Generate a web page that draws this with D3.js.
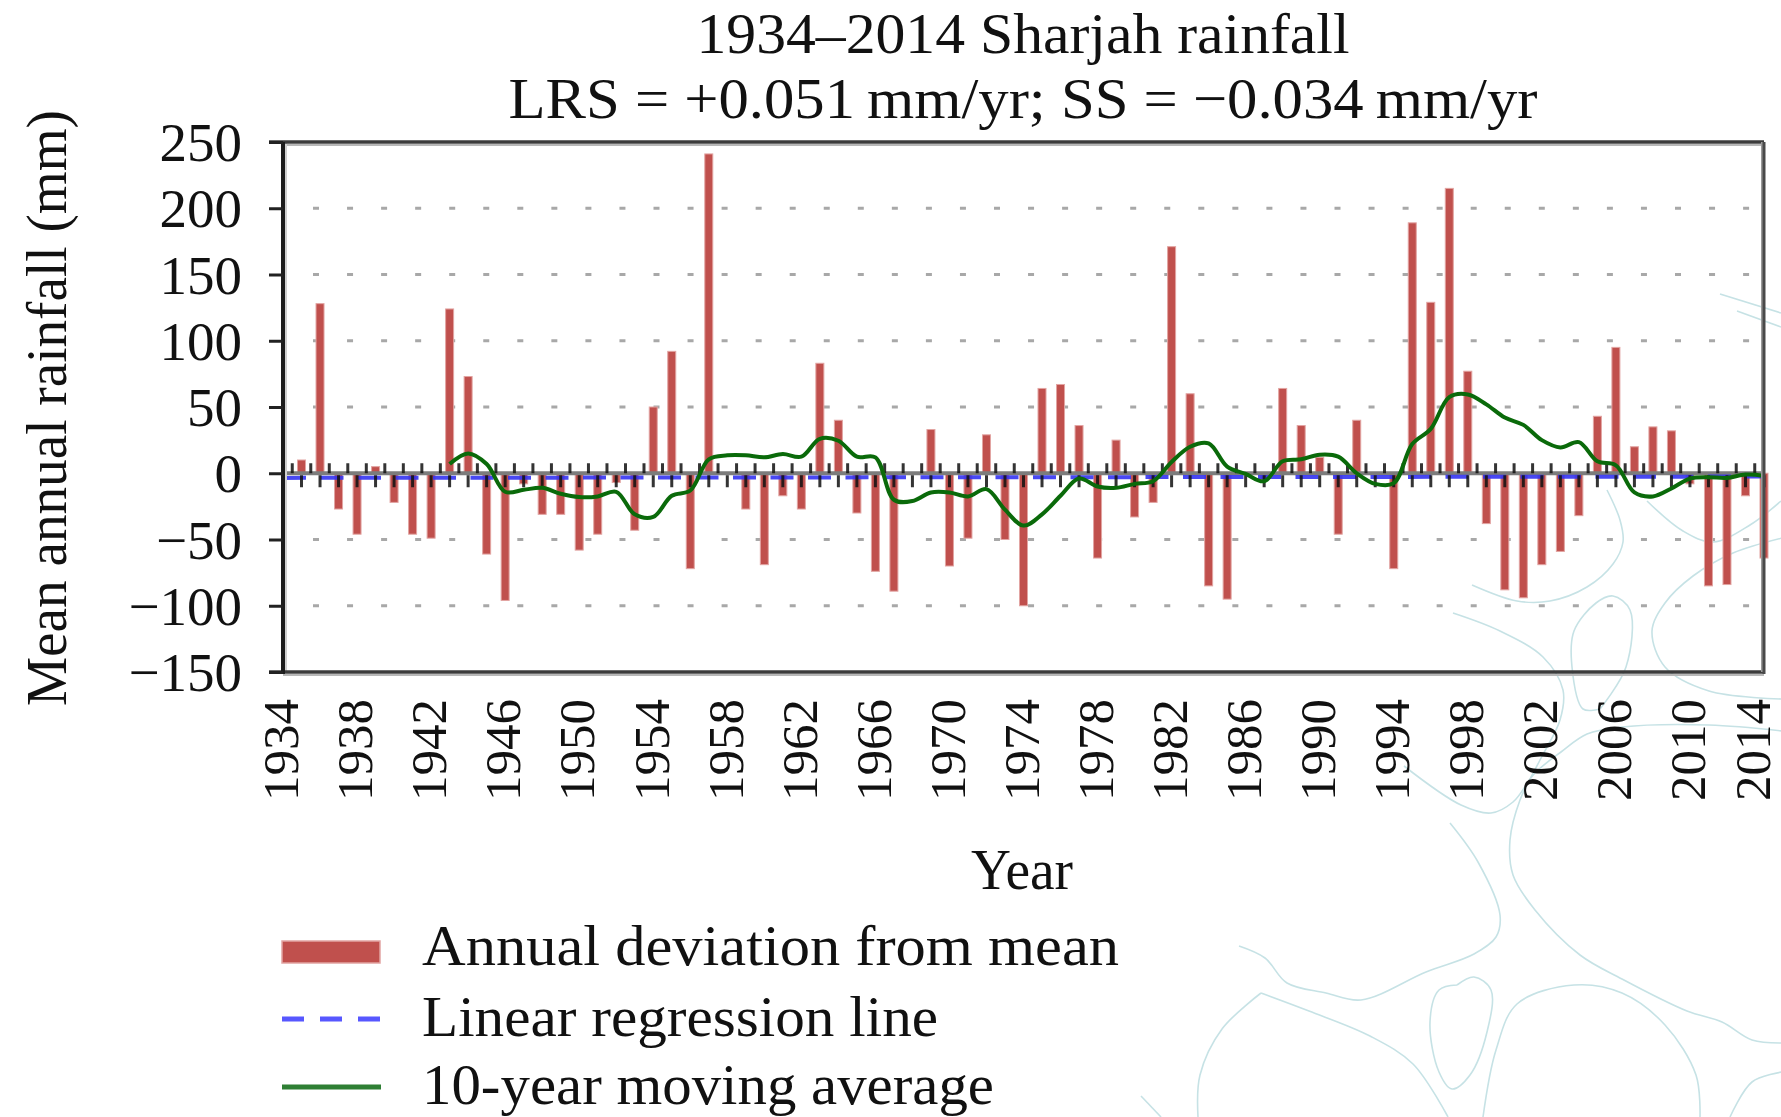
<!DOCTYPE html>
<html>
<head>
<meta charset="utf-8">
<script src="https://cdn.jsdelivr.net/npm/d3@7"></script>
<style>
	body { margin: 0; background: #fff; }
	svg { display: block; }
	text { font-family: "Liberation Serif", "Times New Roman", serif; fill: #111; }
</style>
</head>
<body>
<svg id="chart" width="1781" height="1117"></svg>
<script>
// annual deviation from mean (mm), one value per year 1934..2014
var years = d3.range(1934, 2015);
var deviation = [
	0, 10, 128, -27, -46, 5, -22, -46, -49, 124,
	73, -61, -96, -8, -31, -31, -58, -46, -7, -43,
	50, 92, -72, 241, 0, -27, -69, -17, -27, 83,
	40, -30, -74, -89, 0, 33, -70, -49, 29, -50,
	-100, 64, 67, 36, -64, 25, -33, -22, 171, 60,
	-85, -95, 0, -5, 64, 36, 12, -46, 40, 0,
	-72, 189, 129, 215, 77, -38, -88, -94, -69, -59,
	-32, 43, 95, 20, 35, 32, -8, -85, -84, -17,
	-64
];

// 10-year moving average (1943..2014)
var maStart = 1943;
var movingAvg = [
	7, 15, 7, -14, -12.5, -11, -15.5, -18, -17.5, -14,
	-31, -33, -17, -13, 10.5, 13.5, 13.5, 12, 14.5, 12.5,
	26, 24.5, 12.5, 12, -20, -21, -14.5, -14.5, -17.5, -12,
	-27.5, -39.5, -31, -17, -4, -10, -11, -8, -6, 8.5,
	20, 22.5, 5, -0.5, -6, 9, 10.5, 14, 12.5, 0,
	-8, -7.5, 22, 33.5, 57.5, 59.5, 52, 42, 36.5, 25,
	19.5, 23.5, 9, 6, -14.5, -17.5, -11.5, -4, -3, -3.5,
	-1, -2
];

// linear regression line end points
var regYears = [1934, 2014];
var regValues = [-3.5, -2.5];

var yTicks = [-150, -100, -50, 0, 50, 100, 150, 200, 250];
var gridValues = [-100, -50, 50, 100, 150, 200];
var yearTicks = d3.range(1934, 2015, 4);

var titleLines = ["1934\u20132014 Sharjah rainfall", "LRS = +0.051\u2009mm/yr; SS = \u22120.034\u2009mm/yr"];
var yTitle = "Mean annual rainfall (mm)";
var xTitle = "Year";
var legendLabels = ["Annual deviation from mean", "Linear regression line", "10-year moving average"];

// plot box (window.top is read-only, so no bare "top")
var box = {left: 283, right: 1764, top: 142, bottom: 672};

var x = d3.scaleLinear().domain([1934, 2014]).range([box.left, box.right]);
var y = d3.scaleLinear().domain([-150, 250]).range([box.bottom, box.top]);

var svg = d3.select("#chart");

// faint watermark swirls behind the chart
var swirls = [
	[[1453,613],[1500,631],[1543,657],[1563,690],[1560,720],[1540,760],[1520,800],[1510,840],[1513,875],[1535,910],[1580,955],[1622,979],[1687,1011],[1722,1022],[1752,1040],[1782,1043]],
	[[1404,766],[1461,805],[1491,813],[1513,802],[1535,773],[1561,752],[1587,734],[1622,727],[1709,725],[1782,731]],
	[[1600,709],[1583,709],[1572,667],[1574,631],[1596,603],[1613,596],[1630,610],[1626,667],[1600,709]],
	[[1472,585],[1517,601],[1550,601],[1587,587],[1613,564],[1623,542],[1620,520],[1607,490]],
	[[1782,538],[1733,553],[1693,576],[1665,603],[1652,631],[1665,667],[1709,691],[1782,699]],
	[[1647,501],[1683,531],[1713,542],[1750,525],[1781,501]],
	[[1720,294],[1781,313]],
	[[1737,311],[1781,327]],
	[[1450,823],[1478,862],[1500,915],[1496,937],[1474,954],[1426,972],[1361,1000],[1326,993],[1287,983],[1265,958],[1239,946]],
	[[1261,993],[1309,1011],[1370,1036],[1413,1064],[1448,1117]],
	[[1261,993],[1222,1029],[1200,1075],[1198,1117]],
	[[1457,985],[1474,977],[1491,990],[1487,1032],[1470,1075],[1452,1089],[1439,1072],[1430,1022],[1439,990],[1457,985]],
	[[1483,1117],[1496,1050],[1517,1004],[1574,985],[1622,993],[1665,1025],[1696,1075],[1700,1117]],
	[[1730,1117],[1752,1082],[1782,1072]],
	[[1141,1096],[1161,1117]]
];
svg.append("g")
	.selectAll("path")
	.data(swirls)
	.enter()
	.append("path")
	.attr("d", d3.line().curve(d3.curveCatmullRom))
	.attr("fill", "none")
	.attr("stroke", "#c6e2e5")
	.attr("stroke-width", 1.6);

// dotted grid
svg.append("g")
	.selectAll("line")
	.data(gridValues)
	.enter()
	.append("line")
	.attr("x1", box.left + 30)
	.attr("x2", box.right - 10)
	.attr("y1", function(d) {return y(d);})
	.attr("y2", function(d) {return y(d);})
	.attr("stroke", "#a8a8a8")
	.attr("stroke-width", 3)
	.attr("stroke-dasharray", "6,28.05");

// bars
var barData = years.map(function(yr, i) {return {year: yr, value: deviation[i]};});
svg.append("g")
	.selectAll("rect")
	.data(barData)
	.enter()
	.append("rect")
	.attr("x", function(d) {return x(d.year) - 4;})
	.attr("y", function(d) {return y(Math.max(0, d.value));})
	.attr("width", 8)
	.attr("height", function(d) {return Math.abs(y(d.value) - y(0));})
	.attr("fill", "#c0504d")
	.attr("stroke", "#e2a4a2")
	.attr("stroke-width", 1);

// zero line
svg.append("line")
	.attr("x1", box.left).attr("x2", box.right)
	.attr("y1", y(0)).attr("y2", y(0))
	.attr("stroke", "#7c7c7c")
	.attr("stroke-width", 4);

// regression line
svg.append("line")
	.attr("x1", x(regYears[0])).attr("x2", x(regYears[1]))
	.attr("y1", y(regValues[0])).attr("y2", y(regValues[1]))
	.attr("stroke", "#3535f2")
	.attr("stroke-width", 4)
	.attr("stroke-dasharray", "23,14.5")
	.attr("opacity", 0.9);

// ticks on the zero line: down at each year, up between years
var ticks = svg.append("g").attr("stroke", "#111").attr("stroke-width", 3).attr("opacity", 0.85);
ticks.selectAll(".tick-down")
	.data(years)
	.enter()
	.append("line")
	.attr("class", "tick-down")
	.attr("x1", function(d) {return x(d);})
	.attr("x2", function(d) {return x(d);})
	.attr("y1", y(0) + 2)
	.attr("y2", y(0) + 14);
ticks.selectAll(".tick-up")
	.data(years.slice(0, -1))
	.enter()
	.append("line")
	.attr("class", "tick-up")
	.attr("x1", function(d) {return x(d + 0.5);})
	.attr("x2", function(d) {return x(d + 0.5);})
	.attr("y1", y(0) - 10)
	.attr("y2", y(0));

// moving average
var maData = movingAvg.map(function(v, i) {return {year: maStart + i, value: v};});
svg.append("path")
	.datum(maData)
	.attr("d", d3.line()
		.x(function(d) {return x(d.year);})
		.y(function(d) {return y(d.value);})
		.curve(d3.curveCatmullRom.alpha(0.5)))
	.attr("fill", "none")
	.attr("stroke", "#0a6a0a")
	.attr("stroke-width", 4);

// frame
var frame = svg.append("g").attr("fill", "none");
frame.append("line").attr("x1", box.left).attr("x2", box.right).attr("y1", box.top + 3).attr("y2", box.top + 3).attr("stroke", "#b8b8b8").attr("stroke-width", 2);
frame.append("line").attr("x1", box.left).attr("x2", box.right).attr("y1", box.bottom + 3).attr("y2", box.bottom + 3).attr("stroke", "#b8b8b8").attr("stroke-width", 2);
frame.append("line").attr("x1", box.left + 3).attr("x2", box.left + 3).attr("y1", box.top).attr("y2", box.bottom).attr("stroke", "#d0d0d0").attr("stroke-width", 2);
frame.append("line").attr("x1", box.left - 14).attr("x2", box.right).attr("y1", box.top).attr("y2", box.top).attr("stroke", "#3c3c3c").attr("stroke-width", 3.5);
frame.append("line").attr("x1", box.left - 14).attr("x2", box.right).attr("y1", box.bottom).attr("y2", box.bottom).attr("stroke", "#3c3c3c").attr("stroke-width", 3.5);
frame.append("line").attr("x1", box.right - 2).attr("x2", box.right - 2).attr("y1", box.top).attr("y2", box.bottom).attr("stroke", "#9a9a9a").attr("stroke-width", 2);
frame.append("line").attr("x1", box.right).attr("x2", box.right).attr("y1", box.top).attr("y2", box.bottom + 2).attr("stroke", "#4a4a4a").attr("stroke-width", 3);
frame.append("line").attr("x1", box.left).attr("x2", box.left).attr("y1", box.top).attr("y2", box.bottom + 2).attr("stroke", "#1c1c1c").attr("stroke-width", 4);

// y axis
var yAxis = d3.axisLeft(y)
	.tickValues(yTicks)
	.tickSize(14)
	.tickPadding(27)
	.tickFormat(function(d) {return d < 0 ? "\u2212" + Math.abs(d) : d;});
var yg = svg.append("g").attr("transform", "translate(" + box.left + ",0)").call(yAxis);
yg.select(".domain").remove();
yg.selectAll("line").attr("stroke", "#222").attr("stroke-width", 3);
yg.selectAll("text").attr("font-size", 55).attr("dy", "0.34em").attr("fill", "#111");

// x axis labels, vertical
var xAxis = d3.axisBottom(x)
	.tickValues(yearTicks)
	.tickSize(0)
	.tickFormat(d3.format("d"));
var xg = svg.append("g").attr("transform", "translate(0," + box.bottom + ")").call(xAxis);
xg.select(".domain").remove();
xg.selectAll("text")
	.attr("font-size", 51)
	.attr("transform", "rotate(-90)")
	.attr("x", -27)
	.attr("y", 0)
	// last label sits on the page edge, pull it in a little
	.attr("dy", function(d) {return d == 2014 ? "0.1em" : "0.29em";})
	.attr("text-anchor", "end")
	.attr("fill", "#111");

// titles
svg.selectAll(".title")
	.data(titleLines)
	.enter()
	.append("text")
	.attr("class", "title")
	.attr("x", 1023)
	.attr("y", function(d, i) {return i == 0 ? 53 : 118;})
	.attr("text-anchor", "middle")
	.attr("font-size", 58)
	.attr("textLength", function(d, i) {return i == 0 ? 653 : 1029;})
	.attr("lengthAdjust", "spacingAndGlyphs")
	.text(function(d) {return d;});

svg.append("text")
	.attr("transform", "translate(66,408) rotate(-90)")
	.attr("text-anchor", "middle")
	.attr("font-size", 58)
	.attr("textLength", 596)
	.attr("lengthAdjust", "spacingAndGlyphs")
	.text(yTitle);

svg.append("text")
	.attr("x", 1022)
	.attr("y", 889)
	.attr("text-anchor", "middle")
	.attr("font-size", 56)
	.attr("textLength", 102)
	.attr("lengthAdjust", "spacingAndGlyphs")
	.text(xTitle);

// legend
var legendY = [965, 1036, 1104];
var legendW = [697, 516, 572];
var legend = svg.append("g");
legend.append("rect")
	.attr("x", 282).attr("y", 941)
	.attr("width", 98).attr("height", 22)
	.attr("fill", "#c0504d")
	.attr("stroke", "#e2a4a2")
	.attr("stroke-width", 1.5);
legend.append("line")
	.attr("x1", 282).attr("x2", 381)
	.attr("y1", 1019).attr("y2", 1019)
	.attr("stroke", "#5757ff")
	.attr("stroke-width", 5)
	.attr("stroke-dasharray", "22,16");
legend.append("line")
	.attr("x1", 282).attr("x2", 381)
	.attr("y1", 1087).attr("y2", 1087)
	.attr("stroke", "#2e7f34")
	.attr("stroke-width", 5);
legend.selectAll("text")
	.data(legendLabels)
	.enter()
	.append("text")
	.attr("x", 422)
	.attr("y", function(d, i) {return legendY[i];})
	.attr("font-size", 56)
	.attr("textLength", function(d, i) {return legendW[i];})
	.attr("lengthAdjust", "spacingAndGlyphs")
	.text(function(d) {return d;});
</script>
</body>
</html>
